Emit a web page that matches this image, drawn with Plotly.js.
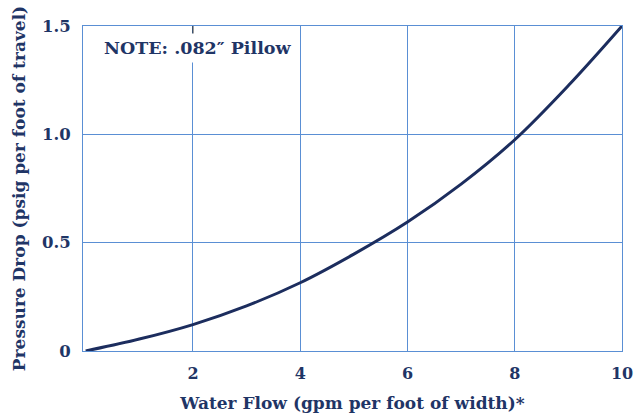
<!DOCTYPE html>
<html>
<head>
<meta charset="utf-8">
<script src="https://cdn.plot.ly/plotly-3.0.1.min.js"></script>
<style>html,body{margin:0;padding:0;background:#fff;}#chart{width:634px;height:417px;}</style>
</head>
<body>
<div id="chart"></div>
<script>
const waterFlow = [0, 1, 2, 3, 4, 5, 6, 7, 8, 9, 10];
const pressureDrop = [0, 0.055, 0.122, 0.208, 0.315, 0.447, 0.595, 0.770, 0.975, 1.225, 1.5];
const xTickVals = [2, 4, 6, 8, 10];
const xTickText = ["2", "4", "6", "8", "10"];
const yTickVals = [0, 0.5, 1.0, 1.5];
const yTickText = ["0", "0.5", "1.0", "1.5"];
const noteText = "NOTE: .082\u2033 Pillow";

const navy = "#1f3566";
const grid = "#5a8fd4";
const fontFam = "DejaVu Serif, Liberation Serif, serif";

const trace = {
  x: waterFlow, y: pressureDrop, type: "scatter", mode: "lines",
  line: {color: "#1c2d5e", width: 3, shape: "spline", smoothing: 1},
  hoverinfo: "skip"
};

const layout = {
  width: 634, height: 417,
  margin: {l: 83, r: 12, t: 26, b: 66},
  paper_bgcolor: "#fff", plot_bgcolor: "#fff",
  showlegend: false,
  font: {family: fontFam, color: navy, size: 16, weight: "bold"},
  xaxis: {
    range: [-0.05, 10], tickvals: xTickVals, ticktext: xTickText,
    showgrid: true, gridcolor: grid, gridwidth: 1,
    showline: true, linecolor: grid, linewidth: 1, mirror: true,
    zeroline: false, ticks: "", ticklen: 0, ticklabelstandoff: 8,
    ticklabeloverflow: "allow",
    tickfont: {family: fontFam, size: 16, color: navy, weight: "bold"},
    title: {text: "Water Flow (gpm per foot of width)*", standoff: 14,
      font: {family: fontFam, size: 17, color: navy, weight: "bold"}}
  },
  yaxis: {
    range: [0, 1.5], tickvals: yTickVals, ticktext: yTickText,
    showgrid: true, gridcolor: grid, gridwidth: 1,
    showline: true, linecolor: grid, linewidth: 1, mirror: true,
    zeroline: false, ticks: "", ticklen: 0, ticklabelstandoff: 8,
    tickfont: {family: fontFam, size: 16.5, color: navy, weight: "bold"},
    title: {text: "Pressure Drop (psig per foot of travel)", standoff: 12,
      font: {family: fontFam, size: 17, color: navy, weight: "bold"}}
  },
  annotations: [{
    text: noteText, xref: "paper", yref: "paper", x: 0.03, y: 0.932,
    xanchor: "left", yanchor: "middle", showarrow: false,
    bgcolor: "#fff", borderpad: 4,
    font: {family: fontFam, size: 17.5, color: navy, weight: "bold"}
  }],
  shapes: [{
    type: "line", xref: "x", yref: "paper", x0: 2, x1: 2, y0: 1, y1: 0.972,
    line: {color: "#222", width: 1}
  }]
};

Plotly.newPlot("chart", [trace], layout, {staticPlot: true, displayModeBar: false});
</script>
</body>
</html>
